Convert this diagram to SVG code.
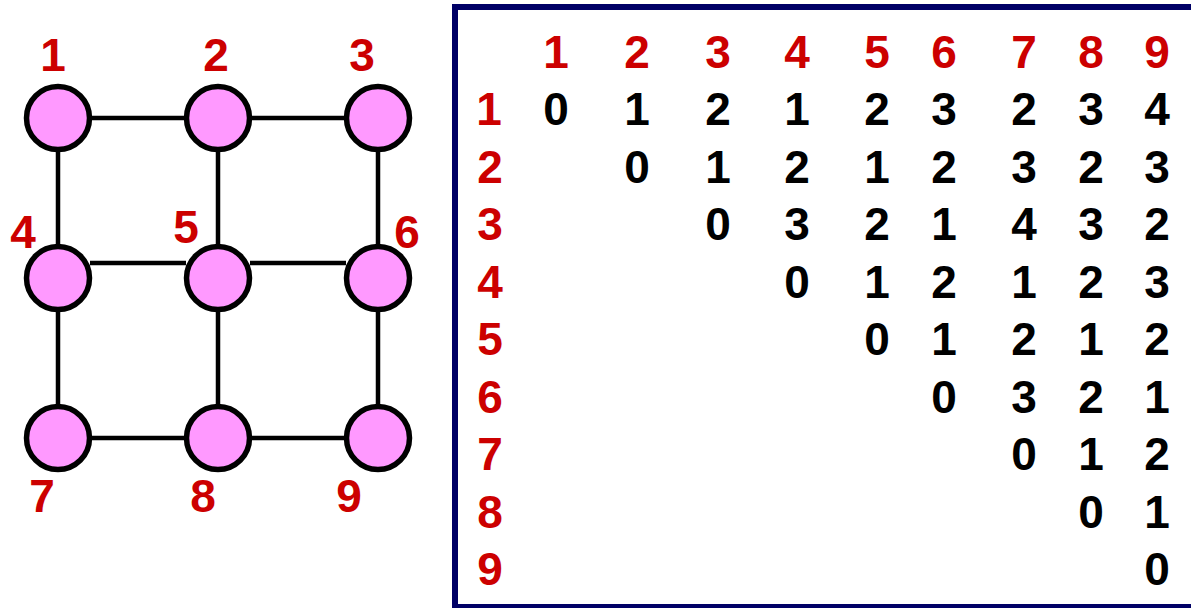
<svg xmlns="http://www.w3.org/2000/svg" width="1191" height="608" viewBox="0 0 1191 608">
<style>
.node circle{fill:#FF99FF;stroke:#000;stroke-width:5.5}
.lbl{font-family:"Liberation Sans",Arial,sans-serif;font-weight:bold;font-size:46px;fill:#CC0000;text-anchor:middle}
.val{font-family:"Liberation Sans",Arial,sans-serif;font-weight:bold;font-size:46px;fill:#000;text-anchor:middle}
#edges line{stroke:#000;stroke-width:4.5}
</style>
<rect width="1191" height="608" fill="#fff"/>
<g id="edges">
<line x1="58" y1="118" x2="218" y2="118"/>
<line x1="218" y1="118" x2="378" y2="118"/>
<line x1="90" y1="263" x2="186" y2="263"/>
<line x1="250" y1="263" x2="346" y2="263"/>
<line x1="58" y1="438" x2="218" y2="438"/>
<line x1="218" y1="438" x2="378" y2="438"/>
<line x1="58" y1="118" x2="58" y2="438"/>
<line x1="218" y1="118" x2="218" y2="438"/>
<line x1="378" y1="118" x2="378" y2="438"/>
</g>
<g id="n1" class="node"><circle cx="58" cy="118" r="31.5"/><text class="lbl" x="53" y="71">1</text></g>
<g id="n2" class="node"><circle cx="218" cy="118" r="31.5"/><text class="lbl" x="216" y="71">2</text></g>
<g id="n3" class="node"><circle cx="378" cy="118" r="31.5"/><text class="lbl" x="362" y="71">3</text></g>
<g id="n4" class="node"><circle cx="58" cy="278" r="31.5"/><text class="lbl" x="23" y="248">4</text></g>
<g id="n5" class="node"><circle cx="218" cy="278" r="31.5"/><text class="lbl" x="186" y="243">5</text></g>
<g id="n6" class="node"><circle cx="378" cy="278" r="31.5"/><text class="lbl" x="407" y="248">6</text></g>
<g id="n7" class="node"><circle cx="58" cy="438" r="31.5"/><text class="lbl" x="42" y="512">7</text></g>
<g id="n8" class="node"><circle cx="218" cy="438" r="31.5"/><text class="lbl" x="203" y="512">8</text></g>
<g id="n9" class="node"><circle cx="378" cy="438" r="31.5"/><text class="lbl" x="349" y="512">9</text></g>
<g id="table">
<rect x="455" y="7" width="760" height="600" fill="none" stroke="#000066" stroke-width="6"/>
<g class="lbl">
<text x="556" y="68">1</text><text x="637" y="68">2</text><text x="718" y="68">3</text><text x="797" y="68">4</text><text x="877" y="68">5</text><text x="944" y="68">6</text><text x="1024" y="68">7</text><text x="1091" y="68">8</text><text x="1157" y="68">9</text>
<text x="489" y="125">1</text><text x="490" y="182.5">2</text><text x="490" y="240">3</text><text x="490" y="297.5">4</text><text x="490" y="355">5</text><text x="490" y="412.5">6</text><text x="490" y="470">7</text><text x="490" y="527.5">8</text><text x="490" y="585">9</text>
</g>
<g class="val">
<text x="556" y="125">0</text><text x="637" y="125">1</text><text x="718" y="125">2</text><text x="797" y="125">1</text><text x="877" y="125">2</text><text x="944" y="125">3</text><text x="1024" y="125">2</text><text x="1091" y="125">3</text><text x="1157" y="125">4</text>
<text x="637" y="182.5">0</text><text x="718" y="182.5">1</text><text x="797" y="182.5">2</text><text x="877" y="182.5">1</text><text x="944" y="182.5">2</text><text x="1024" y="182.5">3</text><text x="1091" y="182.5">2</text><text x="1157" y="182.5">3</text>
<text x="718" y="240">0</text><text x="797" y="240">3</text><text x="877" y="240">2</text><text x="944" y="240">1</text><text x="1024" y="240">4</text><text x="1091" y="240">3</text><text x="1157" y="240">2</text>
<text x="797" y="297.5">0</text><text x="877" y="297.5">1</text><text x="944" y="297.5">2</text><text x="1024" y="297.5">1</text><text x="1091" y="297.5">2</text><text x="1157" y="297.5">3</text>
<text x="877" y="355">0</text><text x="944" y="355">1</text><text x="1024" y="355">2</text><text x="1091" y="355">1</text><text x="1157" y="355">2</text>
<text x="944" y="412.5">0</text><text x="1024" y="412.5">3</text><text x="1091" y="412.5">2</text><text x="1157" y="412.5">1</text>
<text x="1024" y="470">0</text><text x="1091" y="470">1</text><text x="1157" y="470">2</text>
<text x="1091" y="527.5">0</text><text x="1157" y="527.5">1</text>
<text x="1157" y="585">0</text>
</g>
</g>
</svg>
